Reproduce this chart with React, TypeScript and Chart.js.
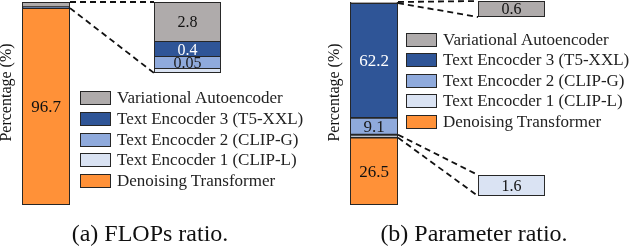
import React, { useEffect, useRef } from 'react';
import { Chart, registerables } from 'chart.js';

Chart.register(...registerables);

// ---------- data ----------
const components = [
  'Denoising Transformer',
  'Text Encocder 1 (CLIP-L)',
  'Text Encocder 2 (CLIP-G)',
  'Text Encocder 3 (T5-XXL)',
  'Variational Autoencoder',
];
const flopsRatio = [96.7, 0.05, 0.05, 0.4, 2.8];
const paramRatio = [26.5, 1.6, 9.1, 62.2, 0.6];
const flopsMainLabelled = [true, false, false, false, false];
const paramMainLabelled = [true, false, true, true, false];
const flopsInsetComponents = [4, 3, 2, 1];
const flopsInsetLabelled = [true, true, true, false];
const paramInsetComponents = [4, 1];
const captions = ['(a) FLOPs ratio.', '(b) Parameter ratio.'];
const yTitle = 'Percentage (%)';

// ---------- style ----------
const colors = ['#FF9138', '#DAE3F3', '#8FAADC', '#2F5597', '#AFABAB'];
const textColors = ['#111', '#111', '#1a1a1a', '#ffffff', '#111'];
const EDGE = '#262626';
const FONT = "'Liberation Serif', 'Times New Roman', serif";
const AXIS_MIN = -10;
const AXIS_MAX = 100;

type Box = { left: number; top: number; w: number; h: number };
const mainBoxA: Box = { left: 0, top: 0, w: 80, h: 210 };
const mainBoxB: Box = { left: 328, top: 0, w: 80, h: 210 };
const insetBoxesA: Box[] = [
  { left: 154, top: 2, w: 67, h: 40 },
  { left: 154, top: 41, w: 67, h: 17 },
  { left: 154, top: 56, w: 67, h: 13 },
  { left: 154, top: 68, w: 67, h: 5 },
];
const insetBoxesB: Box[] = [
  { left: 478, top: 1, w: 67, h: 16 },
  { left: 478, top: 175, w: 67, h: 21 },
];

const valueLabels = {
  id: 'valueLabels',
  afterDatasetsDraw(chart: any) {
    const ctx = chart.ctx;
    chart.data.datasets.forEach((ds: any, di: number) => {
      if (!ds.showValue) return;
      const meta = chart.getDatasetMeta(di);
      meta.data.forEach((el: any, j: number) => {
        const p = el.getProps(['x', 'y', 'base'], true);
        ctx.save();
        ctx.font = `${ds.valueFontSize || 16}px ${FONT}`;
        ctx.fillStyle = ds.valueColor;
        ctx.textAlign = 'center';
        ctx.textBaseline = 'middle';
        ctx.fillText(String(ds.data[j]), p.x, (p.y + p.base) / 2 + 1);
        ctx.restore();
      });
    });
  },
};

const yTitlePlugin = {
  id: 'yTitle',
  afterDraw(chart: any, _args: any, opts: any) {
    if (!opts || !opts.text) return;
    const ctx = chart.ctx;
    ctx.save();
    ctx.translate(opts.x, opts.y);
    ctx.rotate(-Math.PI / 2);
    ctx.font = `16px ${FONT}`;
    ctx.fillStyle = '#111';
    ctx.textAlign = 'center';
    ctx.textBaseline = 'middle';
    ctx.fillText(opts.text, 0, 0);
    ctx.restore();
  },
};

function mainConfig(values: number[], labelled: boolean[]): any {
  return {
    type: 'bar',
    data: {
      labels: ['total'],
      datasets: components.map((name, i) => ({
        label: name,
        data: [values[i]],
        backgroundColor: colors[i],
        borderColor: EDGE,
        borderWidth: 1.3,
        borderSkipped: false,
        barPercentage: 1,
        categoryPercentage: 1,
        showValue: labelled[i],
        valueColor: textColors[i],
        valueFontSize: 17,
        ...(i === 0 ? { base: AXIS_MIN } : {}),
      })),
    },
    options: {
      animation: false,
      responsive: false,
      events: [],
      layout: { padding: { left: 22, right: 10, top: 2, bottom: 5 } },
      scales: {
        x: { display: false, stacked: true },
        y: { display: false, stacked: true, min: AXIS_MIN, max: AXIS_MAX },
      },
      plugins: {
        legend: { display: false },
        tooltip: { enabled: false },
        yTitle: { text: yTitle, x: 7, y: 92.5 },
      },
    },
    plugins: [valueLabels, yTitlePlugin],
  };
}

function insetConfig(value: number, comp: number, labelled: boolean): any {
  return {
    type: 'bar',
    data: {
      labels: [components[comp]],
      datasets: [
        {
          label: components[comp],
          data: [value],
          backgroundColor: colors[comp],
          borderColor: EDGE,
          borderWidth: 1.3,
          borderSkipped: false,
          barPercentage: 1,
          categoryPercentage: 1,
          showValue: labelled,
          valueColor: textColors[comp],
          valueFontSize: 16,
        },
      ],
    },
    options: {
      animation: false,
      responsive: false,
      events: [],
      layout: { padding: 0 },
      scales: {
        x: { display: false },
        y: { display: false, min: 0, max: value },
      },
      plugins: { legend: { display: false }, tooltip: { enabled: false } },
    },
    plugins: [valueLabels],
  };
}

const legendRowsA = [98, 118.75, 139.5, 160.25, 181];
const legendRowsB = [39.5, 60, 80.5, 101, 121.5];

function Legend({ x, rows }: { x: number; rows: number[] }) {
  const order = [4, 3, 2, 1, 0];
  return (
    <>
      {order.map((c, k) => (
        <React.Fragment key={c}>
          <div
            style={{
              position: 'absolute',
              left: x,
              top: rows[k] - 7,
              width: 31,
              height: 14,
              boxSizing: 'border-box',
              border: `1.5px solid ${EDGE}`,
              background: colors[c],
            }}
          />
          <div
            style={{
              position: 'absolute',
              left: x + 37,
              top: rows[k] - 10,
              height: 20,
              lineHeight: '20px',
              font: `17px ${FONT}`,
              color: '#222',
              whiteSpace: 'nowrap',
            }}
          >
            {components[c]}
          </div>
        </React.Fragment>
      ))}
    </>
  );
}

export default function App() {
  const mainA = useRef<HTMLCanvasElement>(null);
  const mainB = useRef<HTMLCanvasElement>(null);
  const insetA = useRef<(HTMLCanvasElement | null)[]>([]);
  const insetB = useRef<(HTMLCanvasElement | null)[]>([]);
  const overlay = useRef<HTMLCanvasElement>(null);

  useEffect(() => {
    const charts: Chart[] = [];
    const ca = new Chart(mainA.current!, mainConfig(flopsRatio, flopsMainLabelled));
    const cb = new Chart(mainB.current!, mainConfig(paramRatio, paramMainLabelled));
    charts.push(ca, cb);
    const insA = flopsInsetComponents.map((c, k) => {
      const ch = new Chart(insetA.current[k]!, insetConfig(flopsRatio[c], c, flopsInsetLabelled[k]));
      charts.push(ch);
      return ch;
    });
    const insB = paramInsetComponents.map((c, k) => {
      const ch = new Chart(insetB.current[k]!, insetConfig(paramRatio[c], c, true));
      charts.push(ch);
      return ch;
    });

    // connectors
    const seg = (chart: Chart, box: Box, di: number) => {
      const el: any = chart.getDatasetMeta(di).data[0];
      const p = el.getProps(['x', 'y', 'base', 'width'], true);
      return { right: box.left + p.x + p.width / 2, top: box.top + p.y, bottom: box.top + p.base };
    };
    const area = (chart: Chart, box: Box) => ({
      left: box.left + chart.chartArea.left,
      top: box.top + chart.chartArea.top,
      bottom: box.top + chart.chartArea.bottom,
    });
    const lines: number[][] = [];
    {
      const vae = seg(ca, mainBoxA, 4);
      const clipL = seg(ca, mainBoxA, 1);
      const topBox = area(insA[0], insetBoxesA[0]);
      const botBox = area(insA[3], insetBoxesA[3]);
      lines.push([vae.right, vae.top, topBox.left, topBox.top]);
      lines.push([clipL.right, clipL.bottom, botBox.left, botBox.bottom]);
    }
    {
      const vae = seg(cb, mainBoxB, 4);
      const clipL = seg(cb, mainBoxB, 1);
      const topBox = area(insB[0], insetBoxesB[0]);
      const botBox = area(insB[1], insetBoxesB[1]);
      lines.push([vae.right, vae.top, topBox.left, topBox.top]);
      lines.push([vae.right, vae.bottom, topBox.left, topBox.bottom]);
      lines.push([clipL.right, clipL.top, botBox.left, botBox.top]);
      lines.push([clipL.right, clipL.bottom, botBox.left, botBox.bottom]);
    }
    const ctx = overlay.current!.getContext('2d')!;
    ctx.clearRect(0, 0, 630, 248);
    ctx.save();
    ctx.strokeStyle = '#111';
    ctx.lineWidth = 1.8;
    ctx.setLineDash([6, 4]);
    lines.forEach(([x1, y1, x2, y2]) => {
      ctx.beginPath();
      ctx.moveTo(x1, y1);
      ctx.lineTo(x2, y2);
      ctx.stroke();
    });
    ctx.restore();

    return () => {
      charts.forEach((c) => c.destroy());
    };
  }, []);

  const canvasStyle = (b: Box): React.CSSProperties => ({
    position: 'absolute',
    left: b.left,
    top: b.top,
    width: b.w,
    height: b.h,
  });

  const captionStyle = (left: number): React.CSSProperties => ({
    position: 'absolute',
    left,
    width: 300,
    top: 220,
    height: 30,
    lineHeight: '30px',
    textAlign: 'center',
    font: `24px ${FONT}`,
    color: '#111',
    whiteSpace: 'nowrap',
  });

  return (
    <div
      style={{
        position: 'fixed',
        left: 0,
        top: 0,
        width: 630,
        height: 248,
        background: '#fff',
        overflow: 'hidden',
        fontFamily: FONT,
      }}
    >
      <canvas ref={mainA} width={mainBoxA.w} height={mainBoxA.h} style={canvasStyle(mainBoxA)} />
      <canvas ref={mainB} width={mainBoxB.w} height={mainBoxB.h} style={canvasStyle(mainBoxB)} />
      {insetBoxesA.map((b, k) => (
        <canvas key={'a' + k} ref={(el) => { insetA.current[k] = el; }} width={b.w} height={b.h} style={canvasStyle(b)} />
      ))}
      {insetBoxesB.map((b, k) => (
        <canvas key={'b' + k} ref={(el) => { insetB.current[k] = el; }} width={b.w} height={b.h} style={canvasStyle(b)} />
      ))}
      <canvas
        ref={overlay}
        width={630}
        height={248}
        style={{ position: 'absolute', left: 0, top: 0, width: 630, height: 248, pointerEvents: 'none' }}
      />
      <Legend x={80} rows={legendRowsA} />
      <Legend x={406} rows={legendRowsB} />
      <div style={captionStyle(0)}>{captions[0]}</div>
      <div style={captionStyle(324)}>{captions[1]}</div>
    </div>
  );
}
